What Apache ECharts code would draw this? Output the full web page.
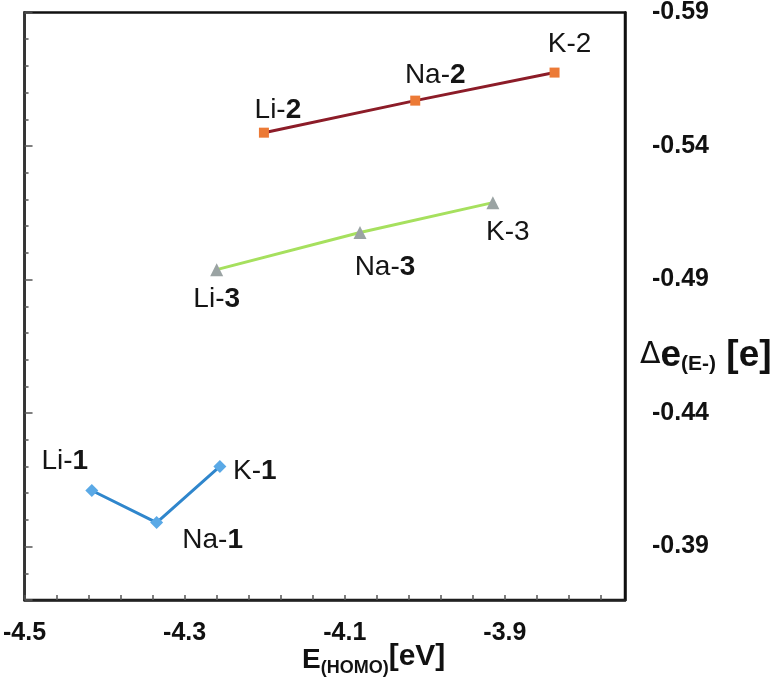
<!DOCTYPE html>
<html>
<head>
<meta charset="utf-8">
<script src="https://cdn.jsdelivr.net/npm/echarts@6/dist/echarts.min.js"></script>
<style>html,body{margin:0;padding:0;background:#fff}#c{width:780px;height:696px}</style>
</head>
<body>
<div id="c"></div>
<script>
// ---- data ----
const xTickLabels = [-4.5, -4.3, -4.1, -3.9];
const yTickLabels = [-0.59, -0.54, -0.49, -0.44, -0.39];

const metals = ['Li', 'Na', 'K'];

const series1X = [-4.416, -4.335, -4.256];
const series1Y = [-0.411, -0.399, -0.420];

const series2X = [-4.201, -4.012, -3.838];
const series2Y = [-0.545, -0.557, -0.5675];

const series3X = [-4.260, -4.081, -3.915];
const series3Y = [-0.4937, -0.5076, -0.5188];

// ---- chart ----
const FONT = 'Liberation Sans, Arial, Helvetica, sans-serif';
const chart = echarts.init(document.getElementById('c'), null, {renderer: 'canvas'});

function buildData(xs, ys, num, offsets, boldList) {
  return xs.map((x, i) => ({
    value: [x, ys[i]],
    label: {
      offset: offsets[i],
      formatter: '{n|' + metals[i] + '-}{' + (boldList[i] ? 'b' : 'n') + '|' + num + '}'
    }
  }));
}

const labelRich = {
  n: {fontFamily: FONT, fontSize: 28, color: '#151515'},
  b: {fontFamily: FONT, fontSize: 28, fontWeight: 'bold', color: '#151515'}
};

function seriesCfg(name, xs, ys, num, offsets, bold, symbol, size, markColor, lineColor) {
  return {
    name, type: 'line', xAxisIndex: 0, yAxisIndex: 0,
    data: buildData(xs, ys, num, offsets, bold),
    symbol, symbolSize: size,
    itemStyle: {color: markColor},
    lineStyle: {color: lineColor, width: 3},
    label: {show: true, position: 'inside', align: 'center', verticalAlign: 'middle', rich: labelRich},
    z: 3, animation: false
  };
}

const isMajor = (v, list) => list.some(t => Math.abs(t - v) < 1e-6);

chart.setOption({
  animation: false,
  backgroundColor: '#fff',
  grid: {left: 24, right: 155, top: 12, bottom: 96, show: true, borderColor: '#111', borderWidth: 2.5},
  xAxis: {
    type: 'value', min: -4.5, max: -3.75, interval: 0.04,
    axisLine: {show: true, onZero: false, lineStyle: {color: '#222', width: 2.5}},
    axisTick: {show: true, inside: true, length: 5, lineStyle: {color: '#555', width: 1.5}},
    splitLine: {show: false},
    axisLabel: {
      margin: 21, fontFamily: FONT, fontSize: 25, fontWeight: 'bold', color: '#111',
      showMaxLabel: false,
      formatter: v => isMajor(v, xTickLabels) ? String(+v.toFixed(1)) : ''
    }
  },
  yAxis: [
    {
      type: 'value', position: 'left', inverse: true, min: -0.59, max: -0.37, interval: 0.01,
      axisLine: {show: true, onZero: false, lineStyle: {color: '#333', width: 2.5}},
      axisTick: {show: true, inside: true, length: 4, lineStyle: {color: '#555', width: 1.5}},
      axisLabel: {show: false}, splitLine: {show: false}
    },
    {
      type: 'value', position: 'right', inverse: true, min: -0.59, max: -0.37, interval: 0.05,
      axisLine: {show: true, onZero: false, lineStyle: {color: '#111', width: 2.5}},
      axisTick: {show: false}, splitLine: {show: false},
      axisLabel: {
        margin: 27, fontFamily: FONT, fontSize: 25, fontWeight: 'bold', color: '#111',
        formatter: v => isMajor(v, yTickLabels) ? v.toFixed(2) : ''
      }
    },
    {
      type: 'value', position: 'left', inverse: true, min: -0.59, max: -0.37, interval: 0.05,
      axisLine: {show: false},
      axisTick: {show: true, inside: true, length: 8, lineStyle: {color: '#555', width: 1.5}},
      axisLabel: {show: false}, splitLine: {show: false}
    }
  ],
  series: [
    seriesCfg('1', series1X, series1Y, '1', [[-27, -29], [56, 18], [35, 5]], [true, true, true],
      'diamond', 13, '#5aa9e6', '#2f86cc'),
    seriesCfg('2', series2X, series2Y, '2', [[14, -22], [20, -25], [15, -28]], [true, true, false],
      'rect', 10, '#ec7a36', '#8c1c28'),
    seriesCfg('3', series3X, series3Y, '3', [[0, 30], [25, 35], [15, 30]], [true, true, false],
      'triangle', 13, '#9aa3a3', '#a6e05e')
  ],
  graphic: [
    {
      type: 'text', left: 302, top: 642, silent: true,
      style: {
        text: '{m|E}{s|(HOMO)}{r|[eV]}',
        rich: {
          m: {fontFamily: FONT, fontSize: 28, fontWeight: 'bold', fill: '#111'},
          s: {fontFamily: FONT, fontSize: 18, fontWeight: 'bold', fill: '#111', padding: [16, 0, 0, 0]},
          r: {fontFamily: FONT, fontSize: 30, fontWeight: 'bold', fill: '#111', padding: [0, 0, 6, 0]}
        }
      }
    },
    {
      type: 'text', left: 640, top: 337, silent: true,
      style: {
        text: '{d|Δ}{e|e}{s|(E-)}{e| [e]}',
        rich: {
          d: {fontFamily: 'DejaVu Sans, ' + FONT, fontSize: 30, fill: '#111'},
          e: {fontFamily: FONT, fontSize: 37, fontWeight: 'bold', fill: '#111'},
          s: {fontFamily: FONT, fontSize: 21, fontWeight: 'bold', fill: '#111', padding: [18, 0, 0, 0]}
        }
      }
    }
  ]
});
</script>
</body>
</html>
